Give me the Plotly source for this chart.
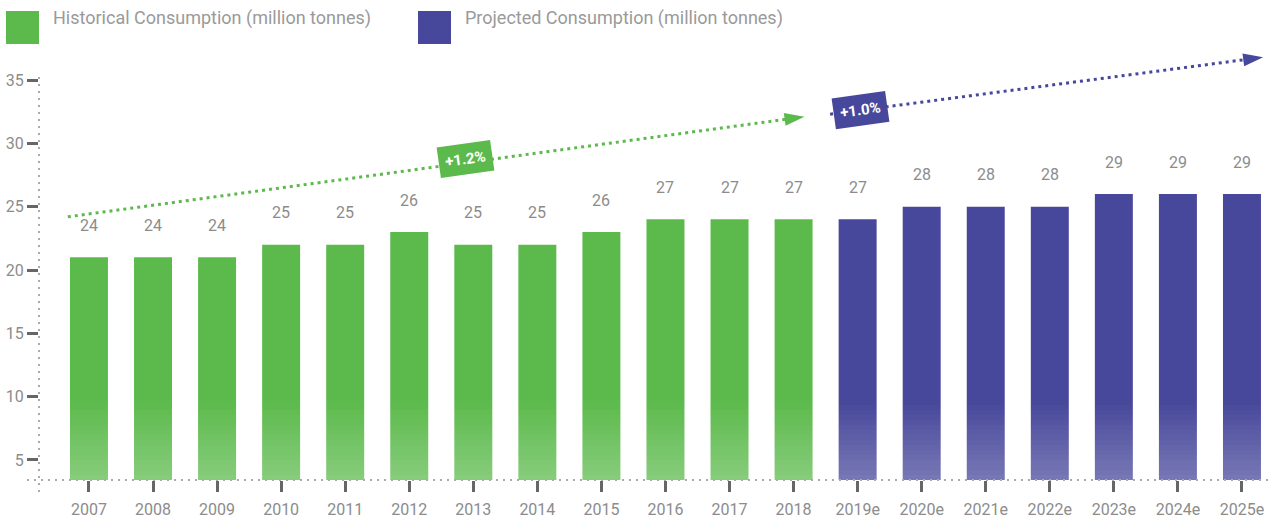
import plotly.graph_objects as go

# ---------------- data ----------------
years = ["2007", "2008", "2009", "2010", "2011", "2012", "2013", "2014", "2015",
         "2016", "2017", "2018", "2019e", "2020e", "2021e", "2022e", "2023e", "2024e", "2025e"]
bar_heights = [21, 21, 21, 22, 22, 23, 22, 22, 23, 24, 24, 24,
               24, 25, 25, 25, 26, 26, 26]
value_labels = [24, 24, 24, 25, 25, 26, 25, 25, 26, 27, 27, 27,
                27, 28, 28, 28, 29, 29, 29]
n_hist = 12  # 2007..2018 historical, rest projected
y_ticks = [5, 10, 15, 20, 25, 30, 35]

trend_hist_x = [-0.33, 11.17]
trend_hist_y = [24.2, 32.1]
trend_proj_x = [11.57, 18.33]
trend_proj_y = [32.3, 36.8]
trend_hist_label = "+1.2%"
trend_proj_label = "+1.0%"

legend_names = ["Historical Consumption (million tonnes)", "Projected Consumption (million tonnes)"]

# ---------------- style ----------------
GREEN = "#5CBA4C"
PURPLE = "#47479B"
TEXT = "#8C8C8C"
TICK = "#666666"
DOTS = "#AAAAAA"
FONT = "Roboto"

W, H = 1279, 519
ML, MR, MT, MB = 39, 5, 40, 39
PW, PH = W - ML - MR, H - MT - MB


def px_x(p):
    return (p - ML) / PW


def px_y(p):
    return (MT + PH - p) / PH


idx = list(range(len(years)))
colors = [GREEN if i < n_hist else PURPLE for i in idx]

fig = go.Figure()
fig.add_trace(go.Bar(x=idx, y=bar_heights, marker=dict(color=colors, line=dict(width=0)),
                     width=0.593, showlegend=False, hoverinfo="skip"))

for tx, ty, col in [(trend_hist_x, trend_hist_y, GREEN), (trend_proj_x, trend_proj_y, PURPLE)]:
    fig.add_trace(go.Scatter(
        x=tx, y=ty, mode="lines+markers",
        line=dict(color=col, width=3, dash="3px,4px"),
        marker=dict(symbol=["circle", "arrow"], size=[0, 21], color=col, opacity=1,
                    angleref="previous", line=dict(width=0)),
        showlegend=False, hoverinfo="skip"))

annotations = []
for i, (h, lab) in enumerate(zip(bar_heights, value_labels)):
    annotations.append(dict(x=i, y=h, text=str(lab), showarrow=False, yshift=32,
                            yanchor="middle", font=dict(family=FONT, size=16, color=TEXT)))

for (x, y, t, col) in [(5.88, 28.76, trend_hist_label, GREEN), (12.05, 32.63, trend_proj_label, PURPLE)]:
    annotations.append(dict(x=x, y=y, text="<b>%s</b>" % t, showarrow=False, textangle=-8,
                            bgcolor=col, borderpad=6,
                            font=dict(family=FONT, size=15, color="white")))

shapes = []
# legend
for (sx, tx, name, col) in [(6, 51, legend_names[0], GREEN), (418, 463, legend_names[1], PURPLE)]:
    shapes.append(dict(type="rect", xref="paper", yref="paper",
                       x0=px_x(sx), x1=px_x(sx + 33), y0=px_y(44), y1=px_y(11),
                       fillcolor=col, line=dict(width=0)))
    annotations.append(dict(xref="paper", yref="paper", x=px_x(tx), y=px_y(18),
                            xanchor="left", yanchor="middle", text=name, showarrow=False,
                            font=dict(family=FONT, size=18, color="#9A9A9A")))

# bottom fade of the bars (white veil over the lowest part)
N = 16
for k in range(N):
    shapes.append(dict(type="rect", xref="paper", yref="paper", x0=0, x1=1,
                       y0=px_y(480 - 5 * k), y1=px_y(480 - 5 * (k + 1)),
                       fillcolor="white", opacity=0.27 * (1 - (k + 0.5) / N),
                       line=dict(width=0)))

# dotted axis lines
shapes.append(dict(type="line", xref="paper", yref="paper", x0=px_x(27), x1=px_x(1270),
                   y0=0, y1=0, line=dict(color=DOTS, width=2, dash="2px,5px")))
shapes.append(dict(type="line", xref="paper", yref="paper", x0=0, x1=0,
                   y0=px_y(492), y1=px_y(77), line=dict(color=DOTS, width=2, dash="2px,5px")))

fig.update_layout(
    width=W, height=H,
    margin=dict(l=ML, r=MR, t=MT, b=MB),
    paper_bgcolor="white", plot_bgcolor="white",
    showlegend=False,
    font=dict(family=FONT, color=TEXT),
    shapes=shapes, annotations=annotations,
    xaxis=dict(range=[-0.78, 18.5], tickvals=idx, ticktext=years, showgrid=False,
               zeroline=False, showline=False, ticks="outside", ticklen=11, tickwidth=2.5,
               tickcolor=TICK, ticklabelstandoff=4, automargin=False,
               tickfont=dict(family=FONT, size=16, color=TEXT)),
    yaxis=dict(range=[3.42, 38.16], tickvals=y_ticks, showgrid=False, zeroline=False,
               showline=False, ticks="outside", ticklen=11, tickwidth=2.5, tickcolor=TICK,
               automargin=False,
               tickfont=dict(family=FONT, size=16, color=TEXT)),
)

fig.write_html("out.html")
